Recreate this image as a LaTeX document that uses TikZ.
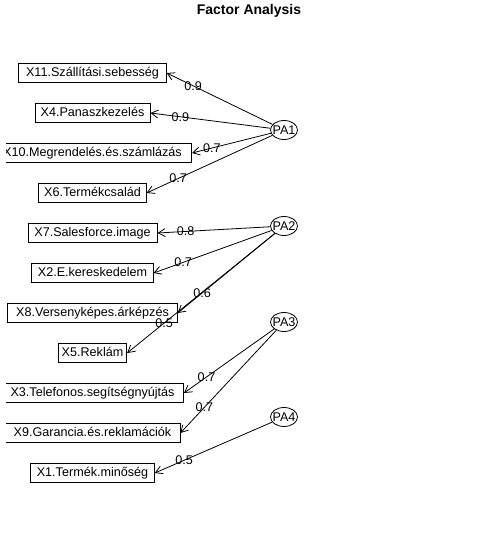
\documentclass[tikz,border=0pt]{standalone}
\usepackage{fontspec}
\setmainfont{Liberation Sans}
\usetikzlibrary{arrows.meta,shapes.geometric}
\begin{document}
\begin{tikzpicture}[x=1pt,y=-1pt,
  varbox/.style={draw, line width=0.8pt, inner xsep=0pt, inner ysep=0pt,
    minimum height=19.5pt, text height=9pt, text depth=2.5pt,
    font=\fontsize{12.6}{14}\selectfont},
  factor/.style={ellipse, draw, line width=0.8pt, inner sep=0pt,
    minimum width=27pt, minimum height=19pt,
    font=\fontsize{12.6}{14}\selectfont},
  load/.style={-{Straight Barb[length=6.9pt,width=8pt]}, line width=0.8pt},
  lab/.style={font=\fontsize{12.6}{14}\selectfont, inner sep=0pt, pos=0.75}
]
\useasboundingbox (0,0) rectangle (500,540);
\node[font=\bfseries\fontsize{14}{16}\selectfont, anchor=base] (title) at (249,15) {Factor Analysis};
\begin{scope}
\clip (6,0) rectangle (500,540);
\node[varbox] (x11) at (92.5,73)  {\makebox[1.111\width]{X11.Szállítási.sebesség}};
\node[varbox] (x4)  at (92.5,113) {\makebox[1.111\width]{X4.Panaszkezelés}};
\node[varbox] (x10) at (92.5,153) {\makebox[1.111\width]{X10.Megrendelés.és.számlázás}};
\node[varbox] (x6)  at (92.5,193) {\makebox[1.111\width]{X6.Termékcsalád}};
\node[varbox] (x7)  at (92.5,233) {\makebox[1.111\width]{X7.Salesforce.image}};
\node[varbox] (x2)  at (92.5,273) {\makebox[1.111\width]{X2.E.kereskedelem}};
\node[varbox] (x8)  at (92.5,313) {\makebox[1.111\width]{X8.Versenyképes.árképzés}};
\node[varbox] (x5)  at (92.5,353) {\makebox[1.111\width]{X5.Reklám}};
\node[varbox] (x3)  at (92.5,393) {\makebox[1.111\width]{X3.Telefonos.segítségnyújtás}};
\node[varbox] (x9)  at (92.5,433) {\makebox[1.111\width]{X9.Garancia.és.reklamációk}};
\node[varbox] (x1)  at (92.5,473) {\makebox[1.111\width]{X1.Termék.minőség}};
\end{scope}
\node[factor] (pa1) at (284,130) {\makebox[0pt]{PA1}};
\node[factor] (pa2) at (284,226) {\makebox[0pt]{PA2}};
\node[factor] (pa3) at (284,322) {\makebox[0pt]{PA3}};
\node[factor] (pa4) at (284,417) {\makebox[0pt]{PA4}};
\draw[load] (pa1) -- node[lab] (l11) {0.9} (x11.east);
\draw[load] (pa1) -- node[lab] (l4)  {0.9} (x4.east);
\draw[load] (pa1) -- node[lab] (l10) {0.7} (x10.east);
\draw[load] (pa1) -- node[lab] (l6)  {0.7} (x6.east);
\draw[load] (pa2) -- node[lab] (l7)  {0.8} (x7.east);
\draw[load] (pa2) -- node[lab] (l2)  {0.7} (x2.east);
\draw[load] (pa2) -- node[lab] (l8)  {0.6} (x8.east);
\draw[load] (pa2) -- node[lab] (l5)  {0.5} (x5.east);
\draw[load] (pa3) -- node[lab] (l3)  {0.7} (x3.east);
\draw[load] (pa3) -- node[lab] (l9)  {0.7} (x9.east);
\draw[load] (pa4) -- node[lab] (l1)  {0.5} (x1.east);
\end{tikzpicture}
\end{document}
